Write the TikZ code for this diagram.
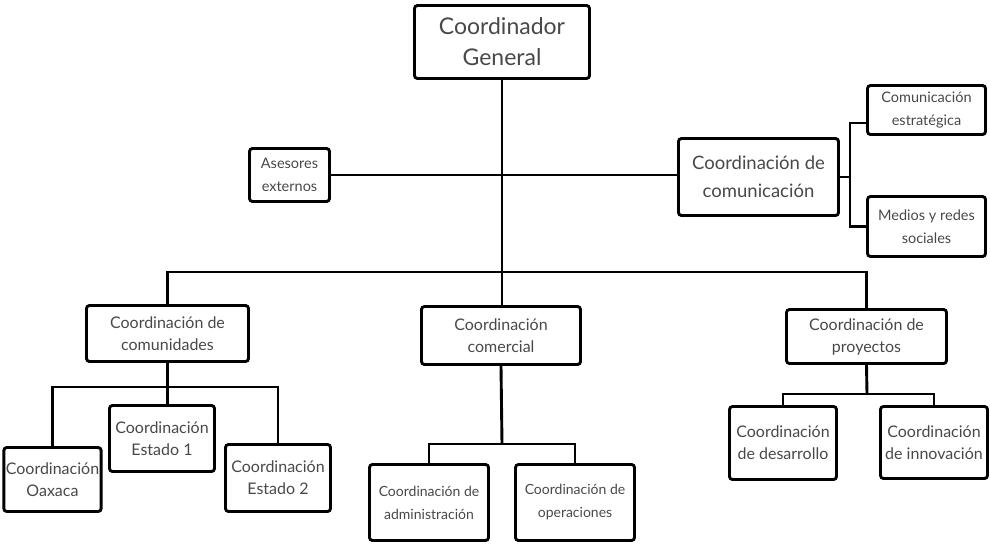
\documentclass[tikz,border=0pt]{standalone}
\usepackage{fontspec}
\setmainfont{Lato}
\usepackage{xcolor}
\usepackage{tikz}
\definecolor{txt}{RGB}{72,72,72}
\tikzset{
	box/.style={draw, line width=2.9pt, rounded corners=3pt, align=center, text=txt, inner sep=2pt}, % every box of the chart
	link/.style={line width=2.9pt}, % the connecting lines
	huge/.style={font=\fontsize{23}{31}\selectfont},
	large/.style={font=\fontsize{18.5}{28}\selectfont},
	mid/.style={font=\fontsize{16}{22}\selectfont},
	small/.style={font=\fontsize{14}{23}\selectfont},
	tiny/.style={font=\fontsize{14.5}{23}\selectfont},
}

\begin{document}
\begin{tikzpicture}[x=1pt, y=-1pt]
	\useasboundingbox (0,0) rectangle (990,544);

	% top and middle row
	\node[box, huge, minimum width=175, minimum height=73] (top) at (502,42) {Coordinador\\General};
	\node[box, tiny, minimum width=80, minimum height=53] (ases) at (289.5,175) {Asesores\\externos};
	\node[box, large, minimum width=160, minimum height=77] (com) at (758.5,177) {Coordinación de\\comunicación};
	\node[box, tiny, minimum width=118, minimum height=49] (comest) at (926.5,110) {Comunicación\\estratégica};
	\node[box, tiny, minimum width=118, minimum height=60] (medios) at (926.5,226.5) {Medios y redes\\sociales};

	% second level
	\node[box, mid, minimum width=162, minimum height=56] (comun) at (167.5,333.5) {Coordinación de\\comunidades};
	\node[box, mid, minimum width=159, minimum height=58] (comer) at (501,335.5) {Coordinación\\comercial};
	\node[box, mid, minimum width=160, minimum height=54] (proy) at (866.5,336.5) {Coordinación de\\proyectos};

	% third level
	\node[box, mid, minimum width=96, minimum height=64] (oax) at (52.5,479.5) {Coordinación\\Oaxaca};
	\node[box, mid, minimum width=105, minimum height=66] (est1) at (162,438.5) {Coordinación\\Estado 1};
	\node[box, mid, minimum width=105, minimum height=67] (est2) at (278,478) {Coordinación\\Estado 2};
	\node[box, small, minimum width=119, minimum height=76] (adm) at (429,502.5) {Coordinación de\\administración};
	\node[box, small, minimum width=119, minimum height=76] (ope) at (575,502.5) {Coordinación de\\operaciones};
	\node[box, mid, minimum width=107, minimum height=73] (des) at (783,443) {Coordinación\\de desarrollo};
	\node[box, mid, minimum width=107, minimum height=72] (inn) at (934,442.5) {Coordinación\\de innovación};

	% bus points
	\coordinate (bus) at (502,272);
	\coordinate (cbr) at (850,177);
	\coordinate (cobus) at (167.5,387);
	\coordinate (cmbus) at (502,444);
	\coordinate (prbus) at (867,394);

	\draw[link] (top.south) -- (top.south |- comer.north);
	\draw[link] (ases.east) -- (ases.east -| com.west);
	\draw[link] (comun.north) |- (bus) -| (proy.north);
	\draw[link] (com.east) -- (cbr);
	\draw[link] ([yshift=-13pt]comest.west) -| (cbr) |- (medios.west);
	\draw[link] (comun.south) -- (cobus);
	\draw[link] (oax.north) |- (cobus) -| (est2.north);
	\draw[link] (cobus) -- (cobus |- est1.north);
	\draw[link] (comer.south) -- (cmbus);
	\draw[link] (adm.north) |- (cmbus) -| (ope.north);
	\draw[link] (proy.south) -- (prbus);
	\draw[link] (des.north) |- (prbus) -| (inn.north);
\end{tikzpicture}
\end{document}
